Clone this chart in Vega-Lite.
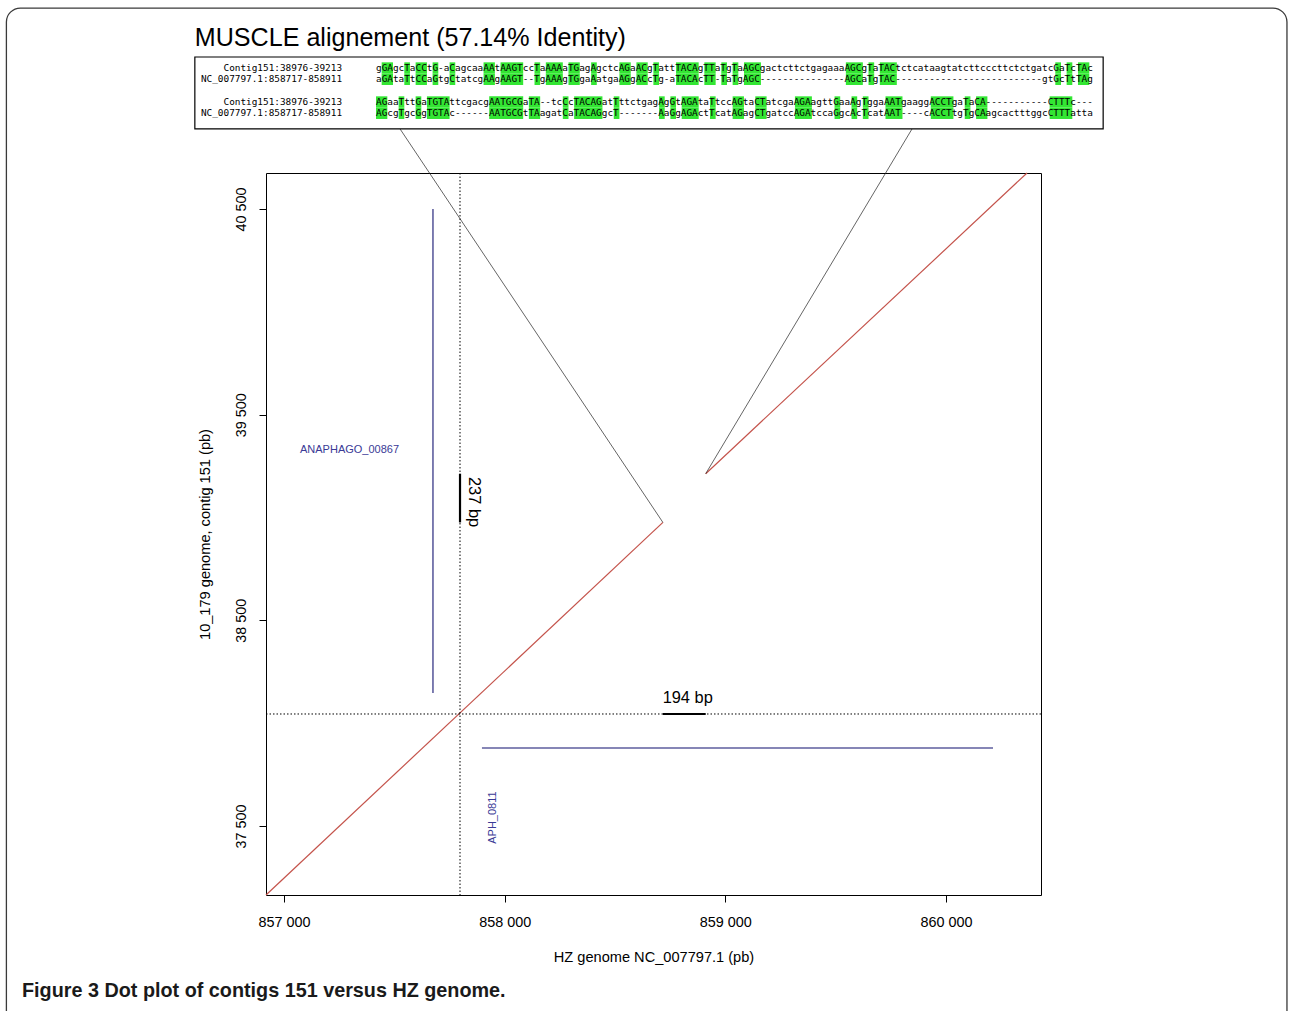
{
  "$schema": "https://vega.github.io/schema/vega-lite/v6.json",
  "width": 775,
  "height": 722,
  "autosize": {"type": "none"},
  "padding": {"left": 266, "top": 173, "right": 248, "bottom": 116},
  "background": "white",
  "config": {
    "view": {"stroke": "black", "strokeWidth": 1},
    "font": "Liberation Sans"
  },
  "datasets": {
    "dotplot": [
      {"seg": "1", "x": 856918.4, "y": 37164.5},
      {"seg": "1", "x": 858717, "y": 38976},
      {"seg": "2", "x": 858911, "y": 39213},
      {"seg": "2", "x": 860367, "y": 40675}
    ],
    "genes": [
      {"gene": "ANAPHAGO_00867", "x1": 857675, "x2": 857675, "y1": 38147, "y2": 40500, "lx": 857072.5, "ly": 39328},
      {"gene": "APH_0811", "x1": 857897, "x2": 860213, "y1": 37879, "y2": 37879, "lx": 857947, "ly": 37541}
    ],
    "spans": [
      {"label": "237 bp", "x1": 857797.6, "x2": 857797.6, "y1": 38976, "y2": 39213, "lx": 857861, "ly": 39075},
      {"label": "194 bp", "x1": 858717, "x2": 858911, "y1": 38044.6, "y2": 38044.6, "lx": 858829.4, "ly": 38120}
    ],
    "guides": [{"x": 857797.6, "y": 38044.6}],
    "connectors": [
      {"id": "start", "x": 857526, "y": 40889},
      {"id": "start", "x": 858717, "y": 38976},
      {"id": "end", "x": 859845.8, "y": 40889},
      {"id": "end", "x": 858911, "y": 39213}
    ],
    "alignment": [
      {"line": 0, "name": "Contig151:38976-39213", "seq": "gGAgcTaCCtG-aCagcaaAAtAAGTccTaAAAaTGagAgctcAGaACgTattTACAgTTaTgTaAGCgactcttctgagaaaAGCgTaTACtctcataagtatcttcccttctctgatcGaTcTAc"},
      {"line": 1, "name": "NC_007797.1:858717-858911", "seq": "aGAtaTtCCaGtgCtatcgAAgAAGT--TgAAAgTGgaAatgaAGgACcTg-aTACAcTT-TaTgAGC---------------AGCaTgTAC--------------------------gtGcTtTAg"},
      {"line": 3, "name": "Contig151:38976-39213", "seq": "AGaaTttGaTGTAttcgacgAATGCGaTA--tcCcTACAGatTttctgagAgGtAGAtaTtccAGtaCTatcgaAGAagttGaaAgTggaAATgaaggACCTgaTaCA-----------CTTTc---"},
      {"line": 4, "name": "NC_007797.1:858717-858911", "seq": "AGcgTgcGgTGTAc------AATGCGtTAagatCaTACAGgcT-------AaGgAGActTcatAGagCTgatccAGAtccaGgcAcTcatAAT----cACCTtgTgCAagcactttggcCTTTatta"}
    ],
    "runs": [
      {"lines": [0, 1], "s": 1, "e": 3}, {"lines": [0, 1], "s": 5, "e": 6}, {"lines": [0, 1], "s": 7, "e": 9},
      {"lines": [0, 1], "s": 10, "e": 11}, {"lines": [0, 1], "s": 13, "e": 14}, {"lines": [0, 1], "s": 19, "e": 21},
      {"lines": [0, 1], "s": 22, "e": 26}, {"lines": [0, 1], "s": 28, "e": 29}, {"lines": [0, 1], "s": 30, "e": 33},
      {"lines": [0, 1], "s": 34, "e": 36}, {"lines": [0, 1], "s": 38, "e": 39}, {"lines": [0, 1], "s": 43, "e": 45},
      {"lines": [0, 1], "s": 46, "e": 48}, {"lines": [0, 1], "s": 49, "e": 50}, {"lines": [0, 1], "s": 53, "e": 57},
      {"lines": [0, 1], "s": 58, "e": 60}, {"lines": [0, 1], "s": 61, "e": 62}, {"lines": [0, 1], "s": 63, "e": 64},
      {"lines": [0, 1], "s": 65, "e": 68}, {"lines": [0, 1], "s": 83, "e": 86}, {"lines": [0, 1], "s": 87, "e": 88},
      {"lines": [0, 1], "s": 89, "e": 92}, {"lines": [0, 1], "s": 120, "e": 121}, {"lines": [0, 1], "s": 122, "e": 123},
      {"lines": [0, 1], "s": 124, "e": 126},
      {"lines": [3, 4], "s": 0, "e": 2}, {"lines": [3, 4], "s": 4, "e": 5}, {"lines": [3, 4], "s": 7, "e": 8},
      {"lines": [3, 4], "s": 9, "e": 13}, {"lines": [3, 4], "s": 20, "e": 26}, {"lines": [3, 4], "s": 27, "e": 29},
      {"lines": [3, 4], "s": 33, "e": 34}, {"lines": [3, 4], "s": 35, "e": 40}, {"lines": [3, 4], "s": 42, "e": 43},
      {"lines": [3, 4], "s": 50, "e": 51}, {"lines": [3, 4], "s": 52, "e": 53}, {"lines": [3, 4], "s": 54, "e": 57},
      {"lines": [3, 4], "s": 59, "e": 60}, {"lines": [3, 4], "s": 63, "e": 65}, {"lines": [3, 4], "s": 67, "e": 69},
      {"lines": [3, 4], "s": 74, "e": 77}, {"lines": [3, 4], "s": 81, "e": 82}, {"lines": [3, 4], "s": 84, "e": 85},
      {"lines": [3, 4], "s": 86, "e": 87}, {"lines": [3, 4], "s": 90, "e": 93}, {"lines": [3, 4], "s": 98, "e": 102},
      {"lines": [3, 4], "s": 104, "e": 105}, {"lines": [3, 4], "s": 106, "e": 108}, {"lines": [3, 4], "s": 119, "e": 123}
    ]
  },
  "layer": [
    {
      "data": {"values": [{}]},
      "mark": {"type": "rect", "fill": "transparent", "stroke": "#3a3a3a", "strokeWidth": 1.3, "cornerRadius": 14},
      "encoding": {
        "x": {"datum": 855742, "type": "quantitative", "scale": {"domain": [856918.4, 860430.4], "nice": false, "zero": false, "padding": 0}, "axis": null},
        "x2": {"datum": 861545},
        "y": {"datum": 41477, "type": "quantitative", "scale": {"domain": [37164.5, 40675], "nice": false, "zero": false, "padding": 0}, "axis": null},
        "y2": {"datum": 36508}
      }
    },
    {
      "data": {"name": "dotplot"},
      "mark": {"type": "line", "color": "#c4534b", "strokeWidth": 1.2},
      "encoding": {
        "x": {
          "field": "x", "type": "quantitative",
          "scale": {"domain": [856918.4, 860430.4], "nice": false, "zero": false, "padding": 0},
          "axis": {
            "title": "HZ genome NC_007797.1 (pb)",
            "values": [857000, 858000, 859000, 860000],
            "labelExpr": "replace(format(datum.value, ','), ',', ' ')",
            "orient": "bottom",
            "domain": false, "grid": false, "ticks": true, "tickSize": 7, "tickColor": "black", "tickWidth": 1,
            "labelFont": "Liberation Sans", "labelFontSize": 14.4, "labelColor": "black", "labelPadding": 13.5,
            "titleFont": "Liberation Sans", "titleFontSize": 14.6, "titleFontWeight": "normal", "titleColor": "black",
            "titleY": 62, "titleBaseline": "middle"
          }
        },
        "y": {
          "field": "y", "type": "quantitative",
          "scale": {"domain": [37164.5, 40675], "nice": false, "zero": false, "padding": 0},
          "axis": {
            "title": "10_179 genome, contig 151 (pb)",
            "values": [37500, 38500, 39500, 40500],
            "labelExpr": "replace(format(datum.value, ','), ',', ' ')",
            "orient": "left",
            "domain": false, "grid": false, "ticks": true, "tickSize": 7, "tickColor": "black", "tickWidth": 1,
            "labelFont": "Liberation Sans", "labelFontSize": 14.4, "labelColor": "black", "labelPadding": 11,
            "labelAngle": 270, "labelAlign": "center", "labelBaseline": "bottom",
            "titleFont": "Liberation Sans", "titleFontSize": 14.6, "titleFontWeight": "normal", "titleColor": "black",
            "titleX": -61, "titleBaseline": "middle"
          }
        },
        "detail": {"field": "seg"}
      }
    },
    {
      "data": {"name": "guides"},
      "mark": {"type": "rule", "color": "black", "strokeWidth": 1, "strokeDash": [1.5, 2]},
      "encoding": {
        "x": {"field": "x", "type": "quantitative", "scale": {"domain": [856918.4, 860430.4], "nice": false, "zero": false, "padding": 0}, "axis": null}
      }
    },
    {
      "data": {"name": "guides"},
      "mark": {"type": "rule", "color": "black", "strokeWidth": 1, "strokeDash": [1.5, 2]},
      "encoding": {
        "y": {"field": "y", "type": "quantitative", "scale": {"domain": [37164.5, 40675], "nice": false, "zero": false, "padding": 0}, "axis": null}
      }
    },
    {
      "data": {"name": "genes"},
      "mark": {"type": "rule", "color": "#5e5e9e", "strokeWidth": 1.6},
      "encoding": {
        "x": {"field": "x1", "type": "quantitative", "scale": {"domain": [856918.4, 860430.4], "nice": false, "zero": false, "padding": 0}, "axis": null},
        "x2": {"field": "x2"},
        "y": {"field": "y1", "type": "quantitative", "scale": {"domain": [37164.5, 40675], "nice": false, "zero": false, "padding": 0}, "axis": null},
        "y2": {"field": "y2"}
      }
    },
    {
      "data": {"name": "genes"},
      "transform": [{"filter": "datum.gene == 'ANAPHAGO_00867'"}],
      "mark": {"type": "text", "color": "#3a3a96", "fontSize": 11, "align": "left", "baseline": "middle", "font": "Liberation Sans"},
      "encoding": {
        "x": {"field": "lx", "type": "quantitative", "scale": {"domain": [856918.4, 860430.4], "nice": false, "zero": false, "padding": 0}, "axis": null},
        "y": {"field": "ly", "type": "quantitative", "scale": {"domain": [37164.5, 40675], "nice": false, "zero": false, "padding": 0}, "axis": null},
        "text": {"field": "gene"}
      }
    },
    {
      "data": {"name": "genes"},
      "transform": [{"filter": "datum.gene == 'APH_0811'"}],
      "mark": {"type": "text", "color": "#3a3a96", "fontSize": 11, "align": "center", "baseline": "middle", "angle": 270, "font": "Liberation Sans"},
      "encoding": {
        "x": {"field": "lx", "type": "quantitative", "scale": {"domain": [856918.4, 860430.4], "nice": false, "zero": false, "padding": 0}, "axis": null},
        "y": {"field": "ly", "type": "quantitative", "scale": {"domain": [37164.5, 40675], "nice": false, "zero": false, "padding": 0}, "axis": null},
        "text": {"field": "gene"}
      }
    },
    {
      "data": {"name": "spans"},
      "mark": {"type": "rule", "color": "black", "strokeWidth": 2.2},
      "encoding": {
        "x": {"field": "x1", "type": "quantitative", "scale": {"domain": [856918.4, 860430.4], "nice": false, "zero": false, "padding": 0}, "axis": null},
        "x2": {"field": "x2"},
        "y": {"field": "y1", "type": "quantitative", "scale": {"domain": [37164.5, 40675], "nice": false, "zero": false, "padding": 0}, "axis": null},
        "y2": {"field": "y2"}
      }
    },
    {
      "data": {"name": "spans"},
      "transform": [{"filter": "datum.label == '237 bp'"}],
      "mark": {"type": "text", "color": "black", "fontSize": 16.4, "align": "center", "baseline": "middle", "angle": 90, "font": "Liberation Sans"},
      "encoding": {
        "x": {"field": "lx", "type": "quantitative", "scale": {"domain": [856918.4, 860430.4], "nice": false, "zero": false, "padding": 0}, "axis": null},
        "y": {"field": "ly", "type": "quantitative", "scale": {"domain": [37164.5, 40675], "nice": false, "zero": false, "padding": 0}, "axis": null},
        "text": {"field": "label"}
      }
    },
    {
      "data": {"name": "spans"},
      "transform": [{"filter": "datum.label == '194 bp'"}],
      "mark": {"type": "text", "color": "black", "fontSize": 16.4, "align": "center", "baseline": "middle", "font": "Liberation Sans"},
      "encoding": {
        "x": {"field": "lx", "type": "quantitative", "scale": {"domain": [856918.4, 860430.4], "nice": false, "zero": false, "padding": 0}, "axis": null},
        "y": {"field": "ly", "type": "quantitative", "scale": {"domain": [37164.5, 40675], "nice": false, "zero": false, "padding": 0}, "axis": null},
        "text": {"field": "label"}
      }
    },
    {
      "data": {"name": "connectors"},
      "mark": {"type": "line", "color": "#222222", "strokeWidth": 0.7},
      "encoding": {
        "x": {"field": "x", "type": "quantitative", "scale": {"domain": [856918.4, 860430.4], "nice": false, "zero": false, "padding": 0}, "axis": null},
        "y": {"field": "y", "type": "quantitative", "scale": {"domain": [37164.5, 40675], "nice": false, "zero": false, "padding": 0}, "axis": null},
        "detail": {"field": "id"}
      }
    },
    {
      "data": {"values": [{}]},
      "mark": {"type": "text", "text": "Figure 3 Dot plot of contigs 151 versus HZ genome.", "font": "Liberation Sans", "fontWeight": "bold", "fontSize": 19.8, "align": "left", "baseline": "middle", "color": "#1a1a1a"},
      "encoding": {
        "x": {"datum": 855812.7, "type": "quantitative", "scale": {"domain": [856918.4, 860430.4], "nice": false, "zero": false, "padding": 0}, "axis": null},
        "y": {"datum": 36697.8, "type": "quantitative", "scale": {"domain": [37164.5, 40675], "nice": false, "zero": false, "padding": 0}, "axis": null}
      }
    },
    {
      "data": {"values": [{}]},
      "mark": {"type": "rect", "fill": "white", "stroke": "black", "strokeWidth": 1.2},
      "encoding": {
        "x": {"datum": -32, "type": "quantitative", "scale": {"domain": [-19.431, 117.47], "nice": false, "zero": false, "padding": 0}, "axis": null},
        "x2": {"datum": 128.45},
        "y": {"datum": -0.97, "type": "quantitative", "scale": {"domain": [9.267, 72.99], "nice": false, "zero": false, "reverse": true, "padding": 0}, "axis": null},
        "y2": {"datum": 5.38}
      }
    },
    {
      "data": {"values": [{}]},
      "mark": {"type": "text", "text": "MUSCLE alignement (57.14% Identity)", "font": "Liberation Sans", "fontSize": 25.1, "align": "left", "baseline": "middle", "color": "black"},
      "encoding": {
        "x": {"datum": -32, "type": "quantitative", "scale": {"domain": [-19.431, 117.47], "nice": false, "zero": false, "padding": 0}, "axis": null},
        "y": {"datum": -2.65, "type": "quantitative", "scale": {"domain": [9.267, 72.99], "nice": false, "zero": false, "reverse": true, "padding": 0}, "axis": null}
      }
    },
    {
      "data": {"name": "runs"},
      "transform": [{"flatten": ["lines"]}],
      "mark": {"type": "bar", "orient": "horizontal", "color": "#33e633", "size": 11.33},
      "encoding": {
        "x": {"field": "s", "type": "quantitative", "scale": {"domain": [-19.431, 117.47], "nice": false, "zero": false, "padding": 0}, "axis": null},
        "x2": {"field": "e"},
        "y": {"field": "lines", "type": "quantitative", "scale": {"domain": [9.267, 72.99], "nice": false, "zero": false, "reverse": true, "padding": 0}, "axis": null}
      }
    },
    {
      "data": {"name": "alignment"},
      "mark": {"type": "text", "font": "DejaVu Sans Mono", "fontSize": 9.4, "align": "left", "baseline": "middle", "color": "black"},
      "encoding": {
        "x": {"datum": 0, "type": "quantitative", "scale": {"domain": [-19.431, 117.47], "nice": false, "zero": false, "padding": 0}, "axis": null},
        "y": {"field": "line", "type": "quantitative", "scale": {"domain": [9.267, 72.99], "nice": false, "zero": false, "reverse": true, "padding": 0}, "axis": null},
        "text": {"field": "seq"}
      }
    },
    {
      "data": {"name": "alignment"},
      "mark": {"type": "text", "font": "DejaVu Sans Mono", "fontSize": 9.4, "align": "right", "baseline": "middle", "color": "black"},
      "encoding": {
        "x": {"datum": -6, "type": "quantitative", "scale": {"domain": [-19.431, 117.47], "nice": false, "zero": false, "padding": 0}, "axis": null},
        "y": {"field": "line", "type": "quantitative", "scale": {"domain": [9.267, 72.99], "nice": false, "zero": false, "reverse": true, "padding": 0}, "axis": null},
        "text": {"field": "name"}
      }
    }
  ],
  "resolve": {"scale": {"x": "independent", "y": "independent"}}
}
